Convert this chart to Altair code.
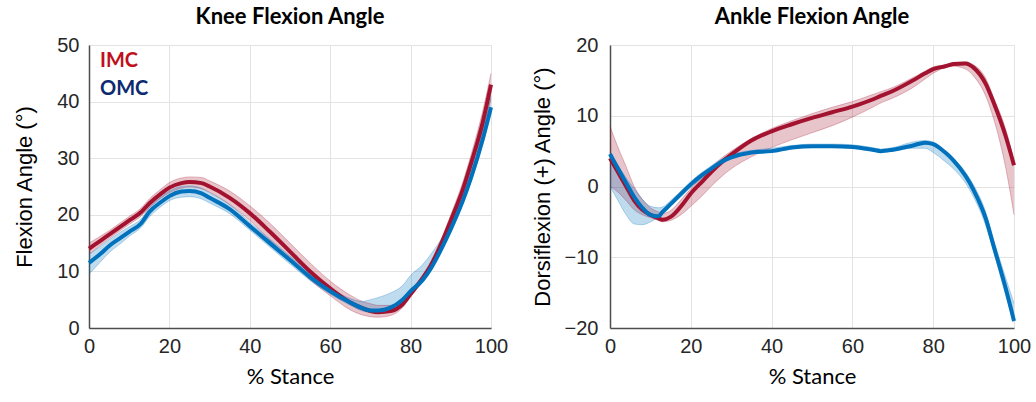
import altair as alt
import pandas as pd

# ---- Knee data ----
knee_x = [0, 3, 5, 8, 10, 13, 15, 18, 20, 23, 25, 28, 30, 35, 40, 45, 50, 55, 60, 65, 68, 70, 72, 75, 78, 80, 83, 85, 88, 90, 93, 95, 98, 100]
knee_imc = [14.0, 15.5, 16.5, 18.0, 19.0, 20.5, 22.0, 23.8, 24.8, 25.6, 25.8, 25.6, 25.0, 23.0, 20.3, 17.0, 13.5, 10.0, 7.0, 4.5, 3.5, 3.0, 2.8, 3.0, 4.2, 6.0, 8.8, 11.0, 15.5, 19.0, 24.5, 29.0, 36.5, 43.0]
knee_imc_lo = [13.0, 14.7, 15.8, 17.3, 18.3, 19.8, 21.2, 23.0, 23.9, 24.7, 24.9, 24.6, 24.0, 21.8, 19.0, 15.5, 12.0, 8.5, 5.7, 3.2, 2.3, 2.0, 1.9, 2.2, 3.6, 5.5, 8.3, 10.4, 14.8, 18.0, 23.5, 28.0, 35.0, 40.5]
knee_imc_hi = [15.0, 16.3, 17.2, 18.7, 19.7, 21.2, 22.8, 24.6, 25.7, 26.5, 26.7, 26.6, 26.0, 24.2, 21.6, 18.5, 15.0, 11.5, 8.3, 5.8, 4.7, 4.3, 4.0, 4.0, 4.8, 6.6, 9.4, 11.7, 16.3, 20.0, 25.8, 30.5, 38.5, 45.0]
knee_omc = [11.5, 13.2, 14.5, 16.0, 17.0, 18.5, 20.5, 22.3, 23.3, 24.1, 24.2, 23.8, 23.0, 21.0, 18.0, 15.0, 12.0, 9.0, 6.5, 4.5, 3.5, 3.1, 3.1, 3.6, 5.0, 6.5, 8.5, 10.5, 14.5, 17.5, 22.5, 26.5, 33.5, 39.0]
knee_omc_lo = [9.5, 11.8, 13.3, 15.0, 16.2, 17.8, 19.6, 21.5, 22.5, 23.1, 23.2, 22.8, 22.1, 20.2, 17.3, 14.3, 11.3, 8.4, 6.0, 4.0, 3.0, 2.8, 2.8, 3.2, 4.6, 6.0, 8.0, 10.0, 13.8, 16.8, 21.8, 25.8, 32.6, 38.0]
knee_omc_hi = [13.0, 14.5, 15.6, 17.0, 17.9, 19.3, 21.3, 23.2, 24.2, 25.0, 25.1, 24.7, 23.9, 21.8, 18.7, 15.7, 12.7, 9.7, 7.1, 5.2, 4.7, 5.0, 5.4, 6.2, 7.5, 9.3, 11.2, 13.0, 16.2, 19.0, 23.7, 27.8, 35.0, 41.0]

# ---- Ankle data ----
ankle_x = [0, 2, 4, 6, 8, 10, 12, 13, 15, 18, 20, 23, 25, 28, 30, 35, 40, 45, 50, 55, 60, 65, 67, 70, 75, 78, 80, 83, 85, 88, 90, 93, 95, 98, 100]
ankle_imc = [4.0, 2.0, 0.0, -2.0, -3.3, -4.0, -4.5, -4.7, -4.3, -2.5, -1.0, 0.8, 2.0, 3.6, 4.5, 6.5, 7.8, 8.8, 9.7, 10.5, 11.3, 12.3, 12.8, 13.5, 15.0, 16.0, 16.6, 17.0, 17.3, 17.4, 16.8, 14.5, 11.8, 7.0, 3.0]
ankle_imc_lo = [0.0, -0.8, -2.0, -3.3, -4.0, -4.4, -4.8, -5.0, -4.8, -3.8, -2.8, -1.2, 0.0, 1.6, 2.5, 4.2, 5.5, 6.6, 7.6, 8.6, 9.8, 11.2, 11.8, 12.5, 14.0, 15.2, 16.0, 16.8, 17.0, 16.6, 15.6, 12.8, 9.5, 2.5, -4.0]
ankle_imc_hi = [8.5, 5.5, 2.8, 0.0, -1.8, -3.0, -3.6, -3.8, -3.4, -1.6, -0.3, 1.5, 2.7, 4.2, 5.0, 6.8, 8.2, 9.3, 10.3, 11.2, 12.0, 13.0, 13.4, 14.0, 15.4, 16.3, 16.9, 17.2, 17.5, 17.6, 17.2, 15.3, 12.5, 8.0, 3.5]
ankle_omc = [4.6, 2.5, 0.5, -1.5, -3.0, -4.0, -4.2, -3.6, -2.5, -0.8, 0.3, 1.7, 2.5, 3.6, 4.1, 4.8, 5.0, 5.5, 5.7, 5.7, 5.6, 5.2, 5.0, 5.2, 5.8, 6.2, 6.0, 4.8, 3.7, 1.5, -0.5, -4.5, -8.5, -14.5, -19.0]
ankle_omc_lo = [0.0, -2.0, -4.0, -5.3, -5.4, -5.0, -4.3, -3.9, -2.8, -1.2, -0.1, 1.2, 2.1, 3.3, 3.9, 4.6, 4.9, 5.3, 5.5, 5.5, 5.4, 5.0, 4.9, 5.0, 5.4, 5.4, 4.8, 3.5, 2.5, 0.5, -1.5, -5.5, -9.3, -15.5, -19.2]
ankle_omc_hi = [4.8, 3.0, 1.2, -0.3, -1.8, -2.8, -3.0, -2.9, -2.0, -0.4, 0.7, 2.1, 2.9, 4.0, 4.5, 5.1, 5.4, 5.8, 6.0, 6.0, 5.9, 5.5, 5.3, 5.5, 6.3, 6.5, 6.3, 5.0, 4.0, 2.0, 0.2, -3.6, -7.6, -13.0, -16.5]

groups = ["IMC", "OMC"]
line_colors = ["#A3122F", "#0072BD"]
band_colors = ["#A3122F", "#0072BD"]
legend_colors = ["#C0101C", "#0B2A6F"]


def frame(x, imc, imc_lo, imc_hi, omc, omc_lo, omc_hi):
    rows = []
    for i, xv in enumerate(x):
        rows.append({"x": xv, "g": "IMC", "m": imc[i], "lo": imc_lo[i], "hi": imc_hi[i]})
        rows.append({"x": xv, "g": "OMC", "m": omc[i], "lo": omc_lo[i], "hi": omc_hi[i]})
    return pd.DataFrame(rows)


LABEL_FONT = "Liberation Sans"
CAL_FONT = "Lato"


def panel(df, title, ytitle, ydom, yvals, width, legend, ytitle_pad, ylabel_pad):
    xscale = alt.Scale(domain=[0, 100], nice=False, zero=False)
    xenc = alt.X("x:Q", scale=xscale,
                 axis=alt.Axis(values=[0, 20, 40, 60, 80, 100], title="% Stance",
                               titleFont=CAL_FONT, titleFontWeight="normal", titleFontSize=22,
                               titlePadding=10, labelPadding=8, labelFlush=False,
                               labelOverlap=False))
    yscale = alt.Scale(domain=ydom, nice=False, zero=False)
    yaxis = alt.Axis(values=yvals, title=ytitle, titleFont=LABEL_FONT, titleFontWeight="normal",
                     titleFontSize=22, titlePadding=ytitle_pad, labelPadding=ylabel_pad,
                     labelFlush=False, labelOverlap=False)
    bcolor = alt.Color("g:N", scale=alt.Scale(domain=groups, range=band_colors), legend=None)
    base = alt.Chart(df)
    band = base.mark_area(opacity=0.25, interpolate="monotone").encode(
        x=xenc, y=alt.Y("lo:Q", scale=yscale, axis=yaxis), y2="hi:Q", color=bcolor,
        detail="g:N")
    band_edge_lo = base.mark_line(strokeWidth=0.8, opacity=0.35, interpolate="monotone").encode(
        x=alt.X("x:Q", scale=xscale), y=alt.Y("lo:Q", scale=yscale), color=bcolor, detail="g:N")
    band_edge_hi = base.mark_line(strokeWidth=0.8, opacity=0.35, interpolate="monotone").encode(
        x=alt.X("x:Q", scale=xscale), y=alt.Y("hi:Q", scale=yscale), color=bcolor, detail="g:N")
    line_imc = base.transform_filter(alt.datum.g == "IMC").mark_line(
        strokeWidth=4, interpolate="monotone", color=line_colors[0]).encode(
        x=alt.X("x:Q", scale=xscale), y=alt.Y("m:Q", scale=yscale))
    line_omc = base.transform_filter(alt.datum.g == "OMC").mark_line(
        strokeWidth=4, interpolate="monotone", color=line_colors[1]).encode(
        x=alt.X("x:Q", scale=xscale), y=alt.Y("m:Q", scale=yscale))
    layers = [band, band_edge_lo, band_edge_hi, line_imc, line_omc]
    if legend:
        for i, g in enumerate(groups):
            leg = alt.Chart(pd.DataFrame({"g": [g]})).mark_text(
                font=CAL_FONT, fontWeight="bold", fontSize=20, align="left",
                baseline="middle", color=legend_colors[i]).encode(
                x=alt.value(11), y=alt.value(16 + 28 * i), text="g:N")
            layers.append(leg)
    return alt.layer(*layers).properties(
        width=width, height=283,
        title=alt.TitleParams(title, font=CAL_FONT, fontWeight="bold", fontSize=22,
                              anchor="middle", offset=6))


knee = panel(frame(knee_x, knee_imc, knee_imc_lo, knee_imc_hi, knee_omc, knee_omc_lo, knee_omc_hi),
             "Knee Flexion Angle", "Flexion Angle (°)", [0, 50], [0, 10, 20, 30, 40, 50], 402, True, 20, 10)
ankle = panel(frame(ankle_x, ankle_imc, ankle_imc_lo, ankle_imc_hi, ankle_omc, ankle_omc_lo, ankle_omc_hi),
              "Ankle Flexion Angle", "Dorsiflexion (+) Angle (°)", [-20, 20], [-20, -10, 0, 10, 20], 404, False, 10, 12)

chart = alt.hconcat(knee, ankle, spacing=23).configure(
    padding={"left": 13, "top": 6, "right": 4, "bottom": 4}
).configure_view(stroke=None).configure_axis(
    labelFont=LABEL_FONT, labelFontSize=20, labelColor="#262626",
    titleColor="#000000",
    domainColor="#4d4d4d", domainWidth=1.5,
    gridColor="#e3e3e3", gridWidth=1,
    tickSize=0,
).configure_axisX(grid=True).configure_axisY(grid=True).configure_title(color="#000000")

chart.save("out.html", embed_options={"renderer": "svg", "actions": False})
